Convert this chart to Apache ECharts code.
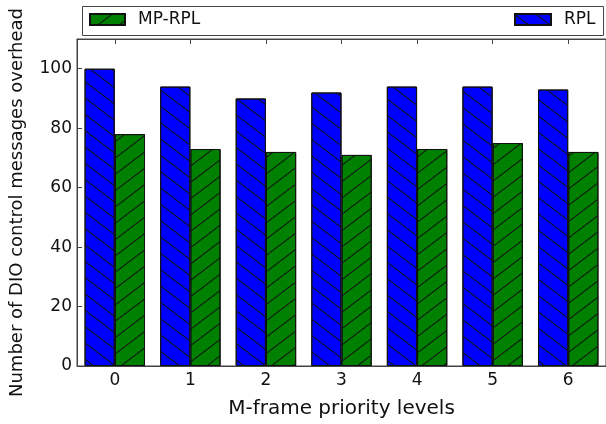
<!DOCTYPE html>
<html>
<head>
<meta charset="utf-8">
<script src="https://cdn.jsdelivr.net/npm/echarts@6/dist/echarts.min.js"></script>
<style>html,body{margin:0;padding:0;background:#fff;}#c{width:606px;height:424px;}</style>
</head>
<body>
<div id="c"></div>
<script>
const categories = ['0', '1', '2', '3', '4', '5', '6'];
const rplValues = [100, 94, 90, 92, 94, 94, 93];
const mpRplValues = [78, 73, 72, 71, 73, 75, 72];
const yTicks = [0, 20, 40, 60, 80, 100];

const FONT = 'DejaVu Sans';
const chart = echarts.init(document.getElementById('c'), null, {renderer: 'canvas'});

function hatch(rot) {
  return {
    symbol: 'rect',
    symbolSize: 1,
    color: '#111',
    backgroundColor: null,
    dashArrayX: [1, 0],
    dashArrayY: [1, 12],
    rotation: rot
  };
}

chart.setOption({
  animation: false,
  backgroundColor: '#fff',
  grid: {left: 72, top: 39, width: 538, height: 337, show: true, borderColor: '#444', borderWidth: 1, backgroundColor: 'transparent'},
  graphic: [{
    type: 'rect', shape: {x: 82.5, y: 6.5, width: 521, height: 29},
    style: {fill: 'transparent', stroke: '#444', lineWidth: 1}, z: 10
  }],
  legend: [{
    data: ['MP-RPL'], left: 89, top: 11, padding: 0, icon: 'rect',
    itemWidth: 35, itemHeight: 11,
    textStyle: {fontFamily: FONT, fontSize: 17, color: '#111', padding: [0, 0, 0, 8]}
  }, {
    data: ['RPL'], left: 514, top: 11, padding: 0, icon: 'rect',
    itemWidth: 36, itemHeight: 11,
    textStyle: {fontFamily: FONT, fontSize: 17, color: '#111', padding: [0, 0, 0, 8]}
  }],
  xAxis: [{
    type: 'category', data: categories, position: 'bottom',
    name: 'M-frame priority levels', nameLocation: 'middle', nameGap: 33,
    nameTextStyle: {fontFamily: FONT, fontSize: 20, color: '#111'},
    axisLine: {show: true, lineStyle: {color: '#444', width: 1}},
    axisTick: {show: true, inside: true, alignWithLabel: true, length: 5, lineStyle: {color: '#444'}},
    axisLabel: {fontFamily: FONT, fontSize: 17, color: '#111', margin: 6},
    splitLine: {show: false}
  }, {
    type: 'category', data: categories, position: 'top',
    axisLine: {show: true, lineStyle: {color: '#444', width: 1}},
    axisTick: {show: true, inside: true, alignWithLabel: true, length: 5, lineStyle: {color: '#444'}},
    axisLabel: {show: false}, splitLine: {show: false}
  }],
  yAxis: {
    type: 'value', min: yTicks[0], max: 110, interval: yTicks[1] - yTicks[0],
    name: 'Number of DIO control messages overhead', nameLocation: 'middle', nameGap: 51,
    nameTextStyle: {fontFamily: FONT, fontSize: 18, color: '#111', padding: [0, 0, 0, 0]},
    axisLine: {show: true, lineStyle: {color: '#444', width: 1}},
    axisTick: {show: true, inside: true, length: 5, lineStyle: {color: '#444'}},
    axisLabel: {fontFamily: FONT, fontSize: 17, color: '#111', margin: 5, showMaxLabel: false},
    splitLine: {show: false}
  },
  series: [{
    name: 'RPL', type: 'bar', data: rplValues, barWidth: '40%', barGap: '0%',
    itemStyle: {color: '#0000ff', borderColor: '#111', borderWidth: 1, decal: hatch(0.65)}
  }, {
    name: 'MP-RPL', type: 'bar', data: mpRplValues, barWidth: '40%', barGap: '0%',
    itemStyle: {color: '#008000', borderColor: '#111', borderWidth: 1, decal: hatch(-0.65)}
  }]
});
</script>
</body>
</html>
